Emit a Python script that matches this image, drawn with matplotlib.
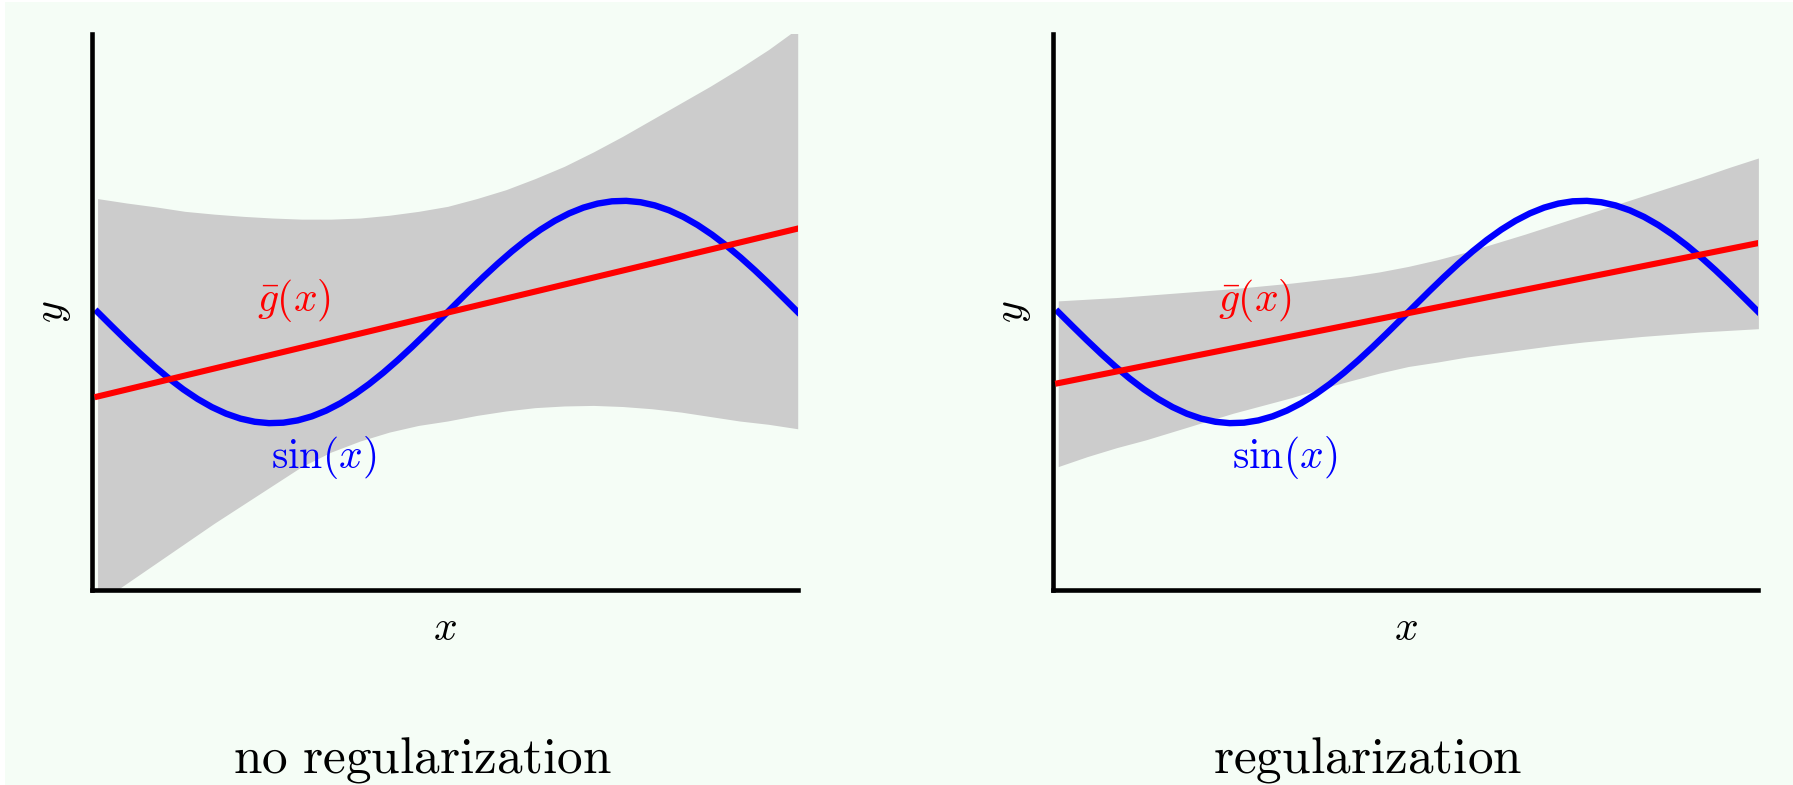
import numpy as np
import matplotlib.pyplot as plt
from matplotlib.patches import Rectangle

plt.rcParams['mathtext.fontset'] = 'cm'

# sample positions for the bias/variance band
x_band = np.linspace(-np.pi, np.pi, 25)

# band edges (mean fit +/- spread), without regularization
upper_noreg = [1.02, 0.98, 0.945, 0.905, 0.88, 0.86, 0.845, 0.835, 0.835, 0.845, 0.87, 0.905, 0.95,
               1.02, 1.10, 1.20, 1.31, 1.44, 1.58, 1.73, 1.88, 2.03, 2.19, 2.36, 2.55]
lower_noreg = [-2.62, -2.44, -2.26, -2.08, -1.90, -1.73, -1.56, -1.39, -1.26, -1.16, -1.08, -1.02, -0.98,
               -0.93, -0.89, -0.86, -0.845, -0.84, -0.85, -0.87, -0.90, -0.94, -0.98, -1.01, -1.05]

# band edges with regularization
upper_reg = [0.10, 0.115, 0.13, 0.15, 0.17, 0.19, 0.21, 0.235, 0.26, 0.29, 0.32, 0.36, 0.41,
             0.47, 0.54, 0.62, 0.70, 0.785, 0.87, 0.955, 1.04, 1.125, 1.21, 1.30, 1.385]
lower_reg = [-1.39, -1.30, -1.22, -1.15, -1.07, -0.99, -0.91, -0.84, -0.77, -0.69, -0.62, -0.55, -0.49,
             -0.45, -0.405, -0.37, -0.335, -0.30, -0.27, -0.245, -0.22, -0.20, -0.18, -0.165, -0.15]

# average fitted line g_bar(x), given at the two ends
x_ends = [-np.pi, np.pi]
gbar_noreg = [-0.76, 0.75]
gbar_reg = [-0.64, 0.62]

titles = ['no regularization', 'regularization']
title_x = [0.2354, 0.7628]

bg = '#f5fdf6'

fig = plt.figure(figsize=(17.93, 7.85), dpi=100)
fig.patch.set_facecolor('white')
fig.patches.append(Rectangle((5 / 1793, 0), 1, 1 - 2 / 785, transform=fig.transFigure,
                             facecolor=bg, edgecolor='none', zorder=-10))

panels = [
    (0.0513, upper_noreg, lower_noreg, gbar_noreg),
    (0.5871, upper_reg, lower_reg, gbar_reg),
]

x_sin = np.linspace(-np.pi, np.pi, 50)

for i, (left, up, lo, gbar) in enumerate(panels):
    ax = fig.add_axes([left, 0.2484, 0.3936, 0.7083])
    ax.set_facecolor('none')

    ax.fill_between(x_band, lo, up, color='#cccccc', linewidth=0, zorder=1)
    ax.plot(x_sin, np.sin(x_sin), color='blue', lw=4.6, zorder=2)
    ax.plot(x_ends, gbar, color='red', lw=4.4, zorder=3)

    ax.text(-1.38, 0.10, r'$\bar{g}(x)$', color='red', fontsize=30,
            ha='center', va='center')
    ax.text(-1.11, -1.31, r'$\sin(x)$', color='blue', fontsize=30,
            ha='center', va='center')

    ax.set_xlim(-np.pi - 0.05, np.pi)
    ax.set_ylim(-2.5, 2.5)
    ax.set_xticks([])
    ax.set_yticks([])
    for side in ['top', 'right']:
        ax.spines[side].set_visible(False)
    for side in ['left', 'bottom']:
        ax.spines[side].set_linewidth(3.3)
        ax.spines[side].set_capstyle('projecting')

    ax.set_xlabel('$x$', fontsize=30, va='center')
    ax.xaxis.set_label_coords(0.5, -0.068)
    ax.set_ylabel('$y$', fontsize=30, va='center')
    ax.yaxis.set_label_coords(-0.057, 0.5)

    fig.text(title_x[i], 0.0153, r'$\mathrm{' + titles[i].replace(' ', r'\ ') + '}$',
             fontsize=37, ha='center', va='baseline')

fig.savefig('out.png', dpi=100, facecolor=fig.get_facecolor())
